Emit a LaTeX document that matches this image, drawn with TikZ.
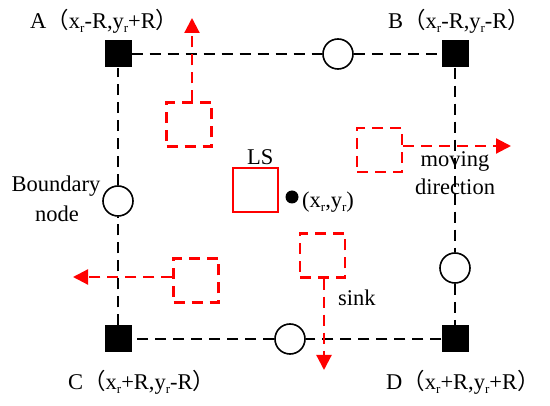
\documentclass[tikz,border=0pt]{standalone}
\usepackage{fontspec}
\setmainfont{Liberation Serif}
\newfontfamily\cjk{Noto Sans CJK SC}
\usetikzlibrary{arrows.meta}
\newcommand\rsub{\raisebox{-0.3ex}{\fontsize{13}{13}\selectfont r}}
\newcommand\lpar{{\cjk （}}
\newcommand\rpar{{\cjk ）}}
\begin{document}
\begin{tikzpicture}[x=1pt,y=-1pt,
  every node/.style={font=\fontsize{22.5}{27}\selectfont, inner sep=0pt},
  corner/.style={fill=black, minimum size=27pt},
  bnode/.style={circle, draw=black, line width=1.6pt, fill=white, minimum size=30pt},
  blk/.style={black, line width=1.9pt, dash pattern=on 11pt off 7pt},
  rsq/.style={draw=red, line width=2.2pt, dash pattern=on 11pt off 7pt, minimum width=45pt, minimum height=44pt},
  rarr/.style={red, line width=2.2pt, dash pattern=on 11pt off 7pt, -{Triangle[length=15pt,width=15pt]}},
  lab/.style={anchor=base west},
  clab/.style={anchor=base}
]
\useasboundingbox (0,0) rectangle (550,406);
% corners
\node[corner] (A) at (118,54) {};
\node[corner] (B) at (455,54) {};
\node[corner] (C) at (118,339) {};
\node[corner] (D) at (455,339) {};
% boundary nodes
\node[bnode] (T) at (338,54) {};
\node[bnode] (L) at (118,201) {};
\node[bnode] (R) at (455,268) {};
\node[bnode] (Bo) at (290,339) {};
% black dashed border
\draw[blk] (A) -- (T);
\draw[blk] (T) -- (B);
\draw[blk] (B) -- (R);
\draw[blk] (R) -- (D);
\draw[blk] (D) -- (Bo);
\draw[blk] (Bo) -- (C);
\draw[blk] (C) -- (L);
\draw[blk] (L) -- (A);
% labels
\node[lab] (la) at (30,29) {A\lpar x\rsub-R,y\rsub+R\rpar};
\node[lab] (lb) at (388,29) {B\lpar x\rsub-R,y\rsub-R\rpar};
\node[lab] (lc) at (68,390) {C\lpar x\rsub+R,y\rsub-R\rpar};
\node[lab] (ld) at (386,390) {D\lpar x\rsub+R,y\rsub+R\rpar};
\node[clab] (lbn1) at (56,192) {Boundary};
\node[clab] (lbn2) at (57,222) {node};
\node[clab] (lmd1) at (455,167) {moving};
\node[clab] (lmd2) at (455,195) {direction};
\node[lab] (lsink) at (338,306) {sink};
% LS
\node[draw=red, line width=2pt, minimum width=45pt, minimum height=44pt] (LS) at (255.5,190.5) {};
\node[lab] (lls) at (247,165) {LS};
\node[circle, fill=black, minimum size=13pt] (dot) at (292,197) {};
\node[lab] (ldot) at (302,208) {(x\rsub,y\rsub)};
% moving red squares
\node[rsq] (s1) at (189,124.5) {};
\node[rsq] (s2) at (379.5,150) {};
\node[rsq] (s3) at (196,280.5) {};
\node[rsq] (s4) at (322.5,255.5) {};
\coordinate (a1) at (192,18);
\coordinate (a2) at (511,146);
\coordinate (a3) at (73,277);
\coordinate (a4) at (324,370);
\draw[rarr] ([xshift=3pt]s1.north) -- (a1);
\draw[rarr] ([yshift=4pt]s2.east) -- (a2);
\draw[rarr] ([yshift=3.5pt]s3.west) -- (a3);
\draw[rarr] ([xshift=1.5pt]s4.south) -- (a4);
\end{tikzpicture}
\end{document}
